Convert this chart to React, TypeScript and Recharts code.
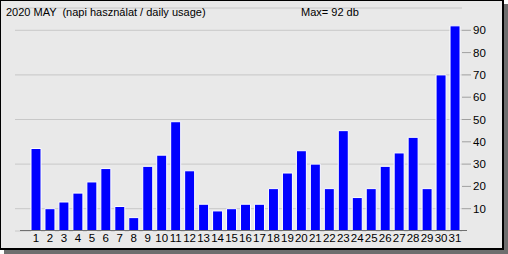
import React from 'react';
import { BarChart, Bar, XAxis, YAxis, CartesianGrid } from 'recharts';

const days = [
  '1', '2', '3', '4', '5', '6', '7', '8', '9', '10', '11', '12', '13', '14', '15', '16',
  '17', '18', '19', '20', '21', '22', '23', '24', '25', '26', '27', '28', '29', '30', '31',
];
const usage = [37, 10, 13, 17, 22, 28, 11, 6, 29, 34, 49, 27, 12, 9, 10, 12, 12, 19, 26, 36, 30, 19, 45, 15, 19, 29, 35, 42, 19, 70, 92];
const yTicks = [10, 20, 30, 40, 50, 60, 70, 80, 90];

const title = '2020 MAY  (napi használat / daily usage)';
const maxLabel = 'Max= 92 db';

const data = days.map((day, i) => ({ day, usage: usage[i] }));

const font = '"Liberation Sans", Arial, sans-serif';

const App: React.FC = () => {
  return (
    <div style={{ position: 'absolute', left: 0, top: 0, width: 508, height: 254, background: '#fff', fontFamily: font }}>
      {/* shadow + framed panel */}
      <div style={{ position: 'absolute', left: 4, top: 4, width: 504, height: 250, background: '#6e6e6e' }} />
      <div
        style={{
          position: 'absolute',
          left: 0,
          top: 0,
          width: 504,
          height: 250,
          boxSizing: 'border-box',
          border: '1px solid #000',
          borderRightWidth: 2,
          borderBottomWidth: 2,
          background: '#e9e9e9',
        }}
      />
      <div style={{ position: 'absolute', left: 0, top: 0 }}>
        <BarChart width={504} height={250} data={data} margin={{ top: 8, right: 0, bottom: 0, left: 15 }}>
          <CartesianGrid vertical={false} stroke="#c8c8c8" />
          <XAxis
            dataKey="day"
            interval={0}
            height={19}
            padding={{ left: 14, right: 0 }}
            axisLine={false}
            tickLine={false}
            tickSize={0}
            tickMargin={3}
            tick={{ fill: '#000', fontSize: 11.5, fontFamily: font }}
          />
          <YAxis
            orientation="right"
            width={42}
            domain={[0, 100]}
            ticks={yTicks}
            axisLine={false}
            tickLine={{ stroke: '#a0a0a0' }}
            tickSize={9}
            tickMargin={2}
            tick={{ fill: '#000', fontSize: 11.5, fontFamily: font }}
          />
          <Bar dataKey="usage" fill="#0000ff" stroke="#ffffff" strokeWidth={1} barSize={10} isAnimationActive={false} />
        </BarChart>
      </div>
      {/* baseline */}
      <div style={{ position: 'absolute', left: 20, top: 230, width: 447, height: 1, background: '#707070' }} />
      <div style={{ position: 'absolute', left: 6, top: 6, fontSize: 11, whiteSpace: 'pre', color: '#000' }}>{title}</div>
      <div style={{ position: 'absolute', left: 301, top: 6, fontSize: 11, whiteSpace: 'pre', color: '#000' }}>{maxLabel}</div>
    </div>
  );
};

export default App;
